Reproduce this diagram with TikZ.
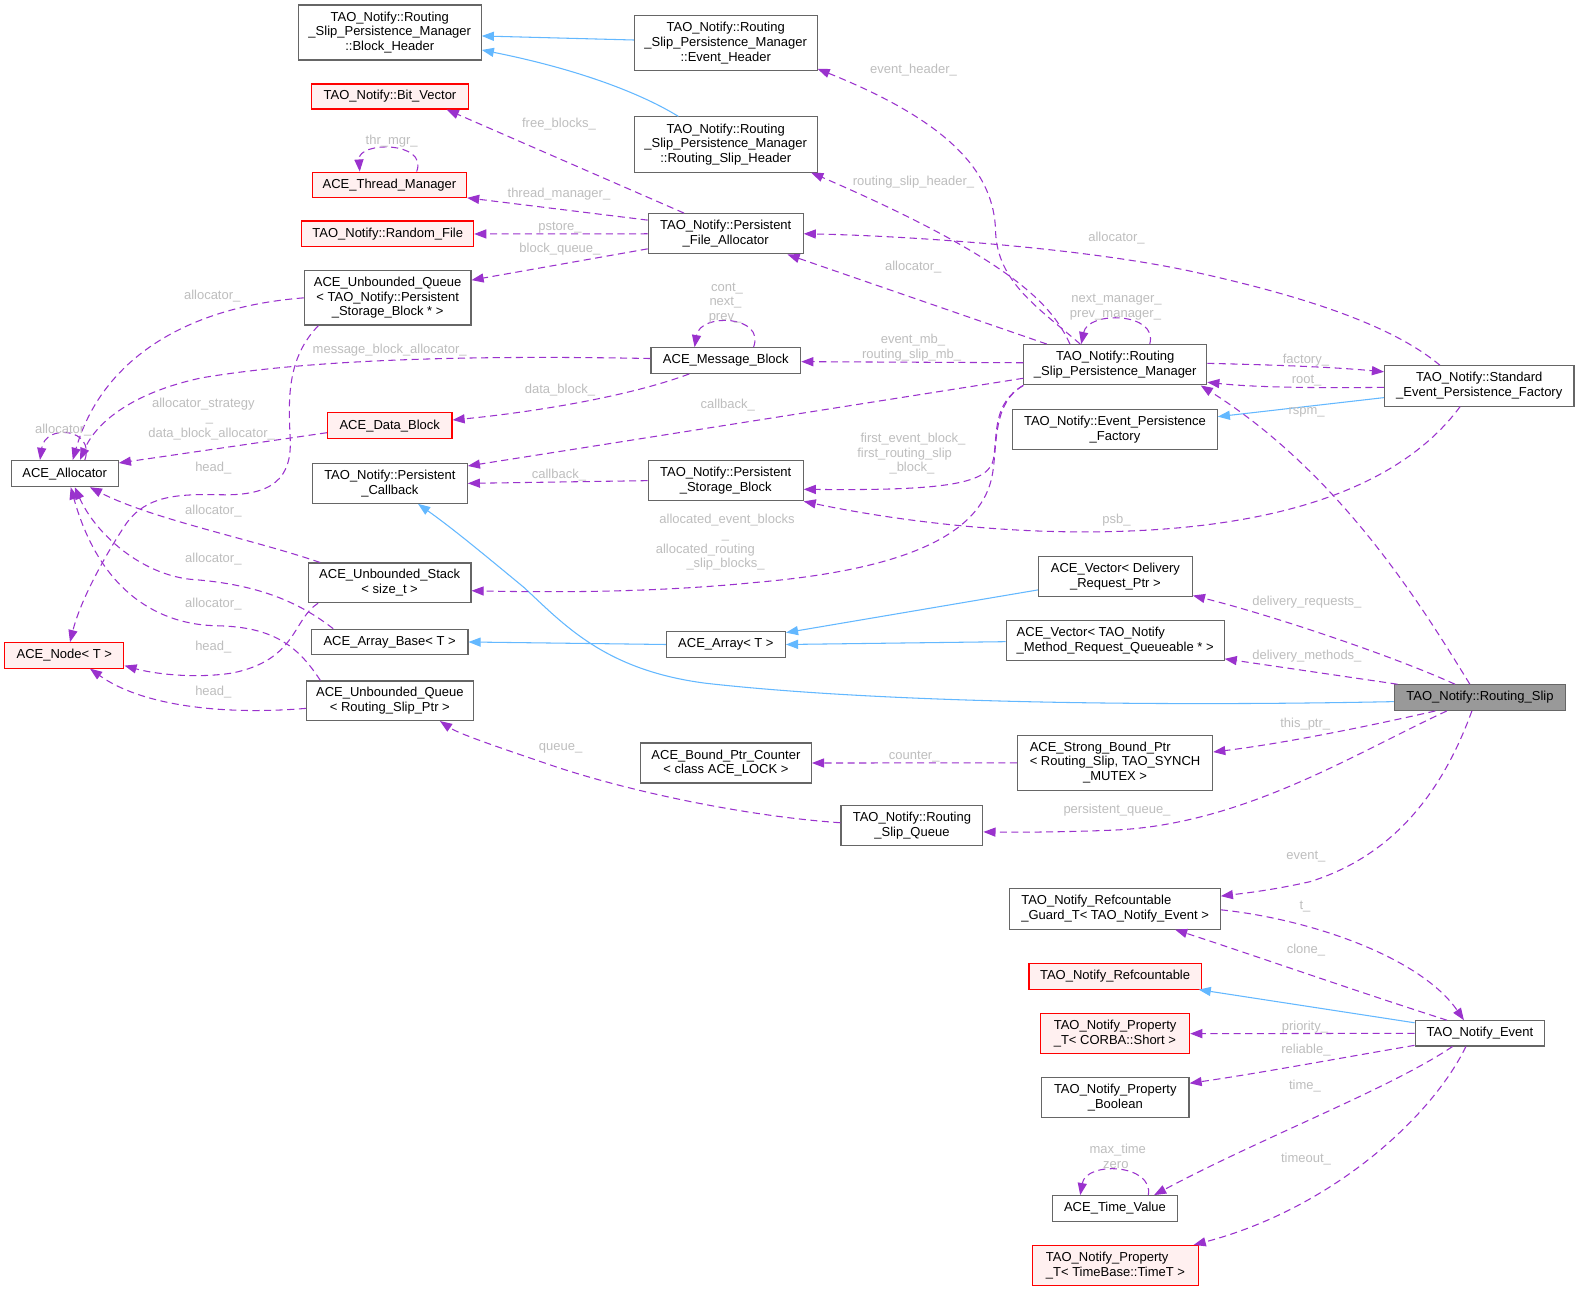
\documentclass[tikz,border=0pt]{standalone}
\usepackage{fontspec}
\newfontfamily\dfont{Liberation Sans}
\usetikzlibrary{arrows.meta}
\definecolor{edgeP}{HTML}{9A32CD}
\definecolor{edgeB}{HTML}{63B8FF}
\definecolor{bord}{HTML}{666666}
\definecolor{redb}{HTML}{FF0000}
\definecolor{redf}{HTML}{FFF0F0}
\definecolor{lblc}{HTML}{BEBEBE}
\definecolor{selfill}{HTML}{999999}
\newcommand\diafont{\dfont\fontsize{12.9}{14.6}\selectfont}
\begin{document}
\begin{tikzpicture}[x=1pt,y=-1pt,
 box/.style={draw=bord, fill=white, line width=1.1pt, inner sep=0pt, font=\diafont, text=black},
 cls/.style={box, align=center},
 clsl/.style={box, align=left},
 redcls/.style={draw=redb, fill=redf},
 sel/.style={fill=selfill},
 sz/.style 2 args={minimum width=#1pt, minimum height=#2pt},
 usel/.style={draw=edgeP, line width=1.05pt, dash pattern=on 7pt off 4.5pt, -{Triangle[length=12pt,width=9pt]}},
 inh/.style={draw=edgeB, line width=1.05pt, -{Triangle[length=12pt,width=9pt]}},
 lbl/.style={text=lblc, font=\diafont, inner sep=0pt, text height=9.3pt, text depth=0pt},
]
\fill[white] (0,0) rectangle (1568,1281);
\useasboundingbox (0,0) rectangle (1568,1281);

% ---------- nodes ----------
\node[cls, sz={181.6}{54.5}] (bh) at (386.8,32.25) {TAO\_Notify::Routing\\\_Slip\_Persistence\_Manager\\::Block\_Header};
\node[cls, sz={181.3}{54.6}] (eh) at (720.2,42.9) {TAO\_Notify::Routing\\\_Slip\_Persistence\_Manager\\::Event\_Header};
\node[cls, sz={181.3}{54.7}] (rsh) at (720.2,143.4) {TAO\_Notify::Routing\\\_Slip\_Persistence\_Manager\\::Routing\_Slip\_Header};
\node[cls, redcls, sz={155.4}{24.8}] (bv) at (387,95.8) {TAO\_Notify::Bit\_Vector};
\node[cls, redcls, sz={153}{25}] (tm) at (386.5,183.3) {ACE\_Thread\_Manager};
\node[cls, redcls, sz={170.5}{25.7}] (rf) at (384.8,232.2) {TAO\_Notify::Random\_File};
\node[cls, sz={153.7}{40}] (pfa) at (720.2,232) {TAO\_Notify::Persistent\\\_File\_Allocator};
\node[cls, sz={165.4}{53.9}] (uqpsb) at (384.7,295.6) {ACE\_Unbounded\_Queue\\< TAO\_Notify::Persistent\\\_Storage\_Block * >};
\node[cls, sz={148.6}{25.5}] (mb) at (720.3,357.8) {ACE\_Message\_Block};
\node[cls, sz={181.5}{40}] (rspm) at (1106.8,362) {TAO\_Notify::Routing\\\_Slip\_Persistence\_Manager};
\node[cls, sz={188}{40}] (sepf) at (1468,383) {TAO\_Notify::Standard\\\_Event\_Persistence\_Factory};
\node[cls, sz={203}{40}] (epf) at (1106.5,426.5) {TAO\_Notify::Event\_Persistence\\\_Factory};
\node[cls, redcls, sz={123.5}{26}] (db) at (386.8,422.5) {ACE\_Data\_Block};
\node[cls, sz={106.4}{26}] (alloc) at (64.2,470) {ACE\_Allocator};
\node[cls, sz={153.7}{39.7}] (pc) at (386.9,479.7) {TAO\_Notify::Persistent\\\_Callback};
\node[cls, sz={153.7}{40}] (psb) at (720.2,477) {TAO\_Notify::Persistent\\\_Storage\_Block};
\node[cls, sz={161.4}{39.3}] (ust) at (386.7,578.4) {ACE\_Unbounded\_Stack\\< size\_t >};
\node[cls, sz={152.8}{39.3}] (avd) at (1106.9,572) {ACE\_Vector< Delivery\\\_Request\_Ptr >};
\node[cls, sz={155.4}{25.2}] (ab) at (386.7,637.1) {ACE\_Array\_Base< T >};
\node[cls, sz={118.1}{25.5}] (aa) at (720.4,639.6) {ACE\_Array< T >};
\node[cls, redcls, sz={118.4}{25.2}] (acenode) at (63.8,650.4) {ACE\_Node< T >};
\node[clsl, sz={216.2}{39.6}] (avm) at (1106.7,635.8) {ACE\_Vector< TAO\_Notify\\\_Method\_Request\_Queueable * >};
\node[cls, sel, sz={170}{25.4}] (rs) at (1468.7,692.3) {TAO\_Notify::Routing\_Slip};
\node[cls, sz={165.7}{39.2}] (uqrsp) at (386.9,695.4) {ACE\_Unbounded\_Queue\\< Routing\_Slip\_Ptr >};
\node[cls, sz={169.7}{39.7}] (bpc) at (720.4,757.2) {ACE\_Bound\_Ptr\_Counter\\< class ACE\_LOCK >};
\node[box, sz={193.7}{54.2}] (sbp) at (1106.6,757.1) {\begin{tabular}{@{}l@{}}ACE\_Strong\_Bound\_Ptr\\< Routing\_Slip, TAO\_SYNCH\\\multicolumn{1}{@{}c@{}}{\_MUTEX >}\end{tabular}};
\node[cls, sz={140.8}{40}] (rsq) at (905,819.5) {TAO\_Notify::Routing\\\_Slip\_Queue};
\node[clsl, sz={208.8}{40}] (rg) at (1106.6,902) {TAO\_Notify\_Refcountable\\\_Guard\_T< TAO\_Notify\_Event >};
\node[cls, redcls, sz={170.9}{25.5}] (rc) at (1106.6,968.8) {TAO\_Notify\_Refcountable};
\node[clsl, redcls, sz={148}{39.7}] (ps) at (1106.6,1025.8) {TAO\_Notify\_Property\\\_T< CORBA::Short >};
\node[cls, sz={128.8}{25}] (ne) at (1468.7,1025.5) {TAO\_Notify\_Event};
\node[cls, sz={146.4}{39.5}] (pb) at (1106.8,1089.3) {TAO\_Notify\_Property\\\_Boolean};
\node[cls, sz={123.7}{25.5}] (tv) at (1106.5,1199.3) {ACE\_Time\_Value};
\node[clsl, redcls, sz={164.1}{40}] (pt) at (1107,1256) {TAO\_Notify\_Property\\\_T< TimeBase::TimeT >};

% ---------- inheritance ----------
\draw[inh] ([yshift=3.2]eh.west) -- ([yshift=-3.45]bh.east);
\draw[inh] ([xshift=-47]rsh.north) .. controls (640,95) and (580,70) .. ([yshift=-17.35]bh.east);
\draw[inh] ([yshift=-11.6]sepf.west) -- ([yshift=13]epf.east);
\draw[inh] ([yshift=-4]rs.west) .. controls (1100,702) and (850,695) .. (700,678) .. controls (600,665) and (560,620) .. (520,583) .. controls (480,550) and (450,525) .. ([xshift=28]pc.south);
\draw[inh] ([yshift=-13.45]avd.west) -- ([yshift=11.75]aa.east);
\draw[inh] ([yshift=-1]avm.west) -- (aa.east);
\draw[inh] (aa.west) -- (ab.east);
\draw[inh] ([yshift=10.5]ne.west) -- ([xshift=-3]rc.south east);

% ---------- usage ----------
\draw[usel] ([xshift=-41.4]pfa.north) -- ([xshift=56.3]bv.south);
\draw[usel] ([yshift=-7]pfa.north west) -- (tm.south east);
\draw[usel] (pfa.west) -- (rf.east);
\draw[usel] ([yshift=5.6]pfa.south west) -- ([yshift=-9.9]uqpsb.north east);
\draw[usel] ([xshift=27]tm.north) .. controls (425,140) and (355,140) .. ([xshift=-29.5]tm.north);
\draw[usel] (uqpsb.west) .. controls (180,305) and (100,360) .. ([xshift=8]alloc.north);
\draw[usel] ([xshift=-68.7]uqpsb.south) .. controls (285,355) and (286,395) .. (288,435) .. controls (290,475) and (270,492) .. (220,491) .. controls (175,490) and (145,492) .. (125,520) .. controls (105,550) and (80,595) .. ([xshift=5.7]acenode.north);
\draw[usel] ([yshift=2]mb.west) .. controls (450,352) and (300,358) .. (200,375) .. controls (130,390) and (95,420) .. ([xshift=15.2]alloc.north);
\draw[usel] ([yshift=-6.9]db.west) -- ([yshift=-3]alloc.north east);
\draw[usel] ([xshift=20]alloc.north) .. controls (95,425) and (45,420) .. ([xshift=-24.5]alloc.north);
\draw[usel] ([xshift=-36.3]mb.south) .. controls (620,395) and (520,410) .. ([yshift=5.7]db.east);
\draw[usel] ([xshift=27.5]mb.north) .. controls (760,313) and (695,310) .. ([xshift=-31]mb.north);
\draw[usel] (psb.west) -- (pc.east);
\draw[usel] ([yshift=-13.4]rspm.west) -- ([yshift=17.25]pc.east);
\draw[usel] ([xshift=-69]ust.north) .. controls (250,535) and (150,515) .. ([xshift=25]alloc.south);
\draw[usel] ([xshift=-56]ab.north) .. controls (300,600) and (260,580) .. (190,575) .. controls (140,570) and (95,530) .. ([xshift=10]alloc.south);
\draw[usel] ([xshift=-69]uqrsp.north) .. controls (295,640) and (270,622) .. (215,621) .. controls (160,620) and (100,590) .. ([xshift=6]alloc.south);
\draw[usel] ([xshift=-71]ust.south) .. controls (290,615) and (295,655) .. (230,668) .. controls (190,674) and (150,668) .. ([yshift=3]acenode.south east);
\draw[usel] ([yshift=-7.6]uqrsp.west) .. controls (220,710) and (140,700) .. ([xshift=25.5]acenode.south);
\draw[usel] ([yshift=3]rsq.west) .. controls (740,810) and (620,785) .. (540,757) .. controls (490,740) and (455,728) .. ([xshift=49.7]uqrsp.south);
\draw[usel] (sbp.west) -- (bpc.east);
\draw[usel] ([xshift=-44.3]rs.south) .. controls (1370,718) and (1280,737) .. ([yshift=10.8]sbp.east);
\draw[usel] ([xshift=-32.9]rs.south) .. controls (1340,750) and (1230,820) .. (1100,824) .. controls (1050,826) and (1000,826) .. ([yshift=-6.1]rsq.east);
\draw[usel] ([xshift=-8]rs.south) .. controls (1430,790) and (1380,850) .. (1300,875) .. controls (1260,884) and (1230,887) .. ([yshift=12.7]rg.east);
\draw[usel] ([xshift=-24.7]rs.north) .. controls (1380,650) and (1260,610) .. ([yshift=1.2]avd.south east);
\draw[usel] ([xshift=-81.7]rs.north) -- ([yshift=2.3]avm.south east);
\draw[usel] ([xshift=-10]rs.north) .. controls (1410,600) and (1330,470) .. ([xshift=-6.5]rspm.south east);
\draw[usel] ([yshift=1.4]rspm.east) .. controls (1260,362) and (1320,364) .. ([yshift=14]sepf.west);
\draw[usel] ([yshift=-1.4]sepf.west) .. controls (1320,385) and (1250,385) .. ([yshift=3.2]rspm.south east);
\draw[usel] ([xshift=-39]sepf.north) .. controls (1390,330) and (1320,300) .. (1190,271) .. controls (1080,246) and (900,234) .. (pfa.east);
\draw[usel] ([xshift=-19]sepf.south) .. controls (1400,470) and (1300,520) .. (1120,527) .. controls (1000,532) and (880,515) .. (psb.south east);
\draw[usel] ([xshift=-68]rspm.north) -- ([xshift=61.3]pfa.south);
\draw[usel] ([xshift=-34.8]rspm.north) .. controls (1030,305) and (990,280) .. (988,230) .. controls (987,170) and (940,120) .. ([yshift=2.4]eh.south east);
\draw[usel] ([xshift=-45]rspm.north) .. controls (1045,305) and (1010,260) .. ([xshift=-6.3]rsh.south east);
\draw[usel] ([xshift=34.2]rspm.north) .. controls (1150,310) and (1080,308) .. ([xshift=-33.8]rspm.north);
\draw[usel] ([yshift=2]rspm.west) -- ([yshift=-1.1]mb.east);
\draw[usel] (rspm.south west) .. controls (985,400) and (990,430) .. (986,455) .. controls (982,480) and (940,487) .. ([yshift=-8.6]psb.east);
\draw[usel] (rspm.south west) .. controls (985,400) and (990,440) .. (985,470) .. controls (975,530) and (900,565) .. (750,578) .. controls (650,588) and (550,588) .. ([yshift=-7.85]ust.east);
\draw[usel] ([yshift=-0.9]rg.east) .. controls (1300,912) and (1410,950) .. ([xshift=-15.9]ne.north);
\draw[usel] ([xshift=-32.7]ne.north) .. controls (1350,985) and (1250,950) .. ([xshift=59.6]rg.south);
\draw[usel] (ne.west) -- (ps.east);
\draw[usel] ([yshift=-11.9]ne.west) .. controls (1330,1050) and (1250,1065) .. ([yshift=14.25]pb.east);
\draw[usel] ([xshift=-27.2]ne.south) .. controls (1380,1080) and (1250,1130) .. ([xshift=38.8]tv.north);
\draw[usel] ([xshift=33.1]tv.north) .. controls (1145,1155) and (1078,1152) .. ([xshift=-34.5]tv.north);
\draw[usel] ([xshift=-13.9]ne.south) .. controls (1420,1110) and (1320,1200) .. ([xshift=-5]pt.north east);

% ---------- labels ----------
\node[lbl] (l1) at (554.7,121.7) {free\_blocks\_};
\node[lbl] (l2) at (388.7,139) {thr\_mgr\_};
\node[lbl] (l3) at (554.7,191.2) {thread\_manager\_};
\node[lbl] (l4) at (555.7,224.3) {pstore\_};
\node[lbl] (l5) at (555.7,246.4) {block\_queue\_};
\node[lbl] (l6) at (210.6,292.7) {allocator\_};
\node[lbl] (l7) at (386.7,345.7) {message\_block\_allocator\_};
\node[lbl] (l8a) at (201.8,400.2) {allocator\_strategy};
\node[lbl] (l8b) at (208,414) {\_};
\node[lbl] (l8c) at (210,429.4) {data\_block\_allocator\_};
\node[lbl] (l9) at (62.8,426) {allocator\_};
\node[lbl] (l10) at (211.7,463.7) {head\_};
\node[lbl] (l11) at (555.7,385.4) {data\_block\_};
\node[lbl] (l12a) at (721.5,284.5) {cont\_};
\node[lbl] (l12b) at (719.9,298.7) {next\_};
\node[lbl] (l12c) at (719.5,313.3) {prev\_};
\node[lbl] (l13) at (554.7,470) {callback\_};
\node[lbl] (l14) at (722.3,401.2) {callback\_};
\node[lbl] (l15) at (211.7,506) {allocator\_};
\node[lbl] (l16) at (211.7,553.4) {allocator\_};
\node[lbl] (l17) at (211.7,598) {allocator\_};
\node[lbl] (l18) at (211.7,641) {head\_};
\node[lbl] (l19) at (211.7,685.7) {head\_};
\node[lbl] (l20) at (556.4,740) {queue\_};
\node[lbl] (l21) at (907.3,749.2) {counter\_};
\node[lbl] (l22) at (1295.3,717.4) {this\_ptr\_};
\node[lbl] (l23) at (1108.5,802.4) {persistent\_queue\_};
\node[lbl] (l24) at (1296,848) {event\_};
\node[lbl] (l25) at (1297,596.4) {delivery\_requests\_};
\node[lbl] (l26) at (1297,650) {delivery\_methods\_};
\node[lbl] (l27) at (1296.7,406.9) {rspm\_};
\node[lbl] (l28) at (1296,355.6) {factory\_};
\node[lbl] (l29) at (1296.7,376.4) {root\_};
\node[lbl] (l30) at (1108,234.9) {allocator\_};
\node[lbl] (l31) at (1108,514.4) {psb\_};
\node[lbl] (l32) at (906.3,263.6) {allocator\_};
\node[lbl] (l33) at (906.6,67.8) {event\_header\_};
\node[lbl] (l34) at (906.6,179.3) {routing\_slip\_header\_};
\node[lbl] (l35a) at (1108,295.4) {next\_manager\_};
\node[lbl] (l35b) at (1107,310) {prev\_manager\_};
\node[lbl] (l36a) at (906,336.4) {event\_mb\_};
\node[lbl] (l36b) at (904.7,351.3) {routing\_slip\_mb\_};
\node[lbl] (l37a) at (906,434) {first\_event\_block\_};
\node[lbl] (l37b) at (897.7,449.2) {first\_routing\_slip};
\node[lbl] (l37c) at (905,463.5) {\_block\_};
\node[lbl] (l38a) at (721.5,515) {allocated\_event\_blocks};
\node[lbl] (l38b) at (720,530) {\_};
\node[lbl] (l38c) at (700,544.5) {allocated\_routing};
\node[lbl] (l38d) at (720,558.7) {\_slip\_blocks\_};
\node[lbl] (l39) at (1295,897.9) {t\_};
\node[lbl] (l40) at (1296,941.5) {clone\_};
\node[lbl] (l41) at (1295,1018) {priority\_};
\node[lbl] (l42) at (1296,1040.5) {reliable\_};
\node[lbl] (l43) at (1295,1076.7) {time\_};
\node[lbl] (l44a) at (1109.3,1139.8) {max\_time};
\node[lbl] (l44b) at (1107.4,1155) {zero};
\node[lbl] (l45) at (1296,1148.8) {timeout\_};
\end{tikzpicture}
\end{document}
